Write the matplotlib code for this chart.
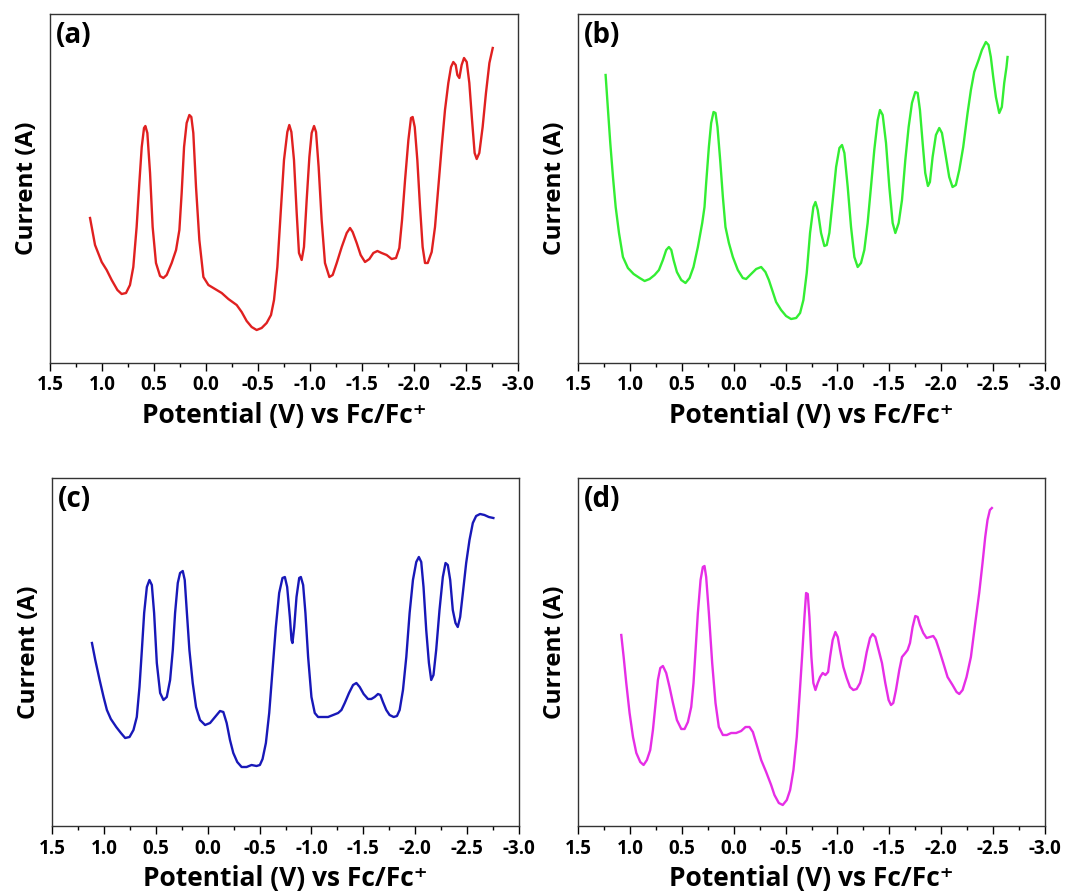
import matplotlib.pyplot as plt
from matplotlib.ticker import MultipleLocator

plt.rcParams['font.family'] = ['Open Sans', 'DejaVu Sans']
plt.rcParams['font.weight'] = 'bold'

# (a) red
va = [1.115, 1.067, 1.003, 0.955, 0.907, 0.852, 0.811, 0.769, 0.731, 0.699, 0.667, 0.641, 0.618, 0.596, 0.583,
      0.564, 0.538, 0.513, 0.481, 0.442, 0.410, 0.378, 0.330, 0.288, 0.256, 0.234, 0.211, 0.186, 0.160, 0.141,
      0.122, 0.096, 0.064, 0.025, -0.023, -0.087, -0.151, -0.215, -0.295, -0.343, -0.391, -0.439, -0.487, -0.535,
      -0.583, -0.625, -0.654, -0.686, -0.718, -0.750, -0.782, -0.801, -0.821, -0.846, -0.872, -0.894, -0.920,
      -0.942, -0.968, -0.994, -1.016, -1.039, -1.058, -1.083, -1.112, -1.144, -1.186, -1.218, -1.257, -1.305,
      -1.353, -1.385, -1.410, -1.449, -1.487, -1.529, -1.571, -1.609, -1.648, -1.689, -1.737, -1.785, -1.827,
      -1.859, -1.885, -1.914, -1.946, -1.971, -1.987, -2.007, -2.032, -2.058, -2.083, -2.106, -2.132, -2.170,
      -2.202, -2.234, -2.266, -2.298, -2.330, -2.356, -2.378, -2.401, -2.417, -2.436, -2.458, -2.481, -2.507,
      -2.532, -2.558, -2.583, -2.603, -2.628, -2.660, -2.692, -2.725, -2.757]
ia = [145, 118, 101, 93, 83, 73, 69, 70, 78, 96, 136, 180, 216, 235, 237, 230, 190, 136, 100, 87, 85, 88, 100,
      113, 133, 170, 216, 240, 248, 246, 230, 176, 123, 86, 78, 74, 70, 64, 58, 51, 42, 36, 33, 35, 40, 48, 63,
      96, 150, 203, 231, 238, 231, 203, 150, 110, 103, 116, 163, 206, 230, 237, 231, 196, 143, 100, 86, 88, 100,
      116, 130, 135, 131, 120, 108, 101, 104, 110, 112, 110, 108, 104, 105, 115, 143, 183, 223, 245, 246, 236,
      203, 156, 116, 100, 100, 111, 136, 176, 216, 253, 280, 296, 301, 298, 288, 285, 298, 305, 301, 280, 243,
      210, 204, 210, 236, 270, 300, 315]

# (b) green
vb = [1.234, 1.211, 1.189, 1.163, 1.137, 1.105, 1.067, 1.019, 0.964, 0.906, 0.858, 0.810, 0.762, 0.720, 0.682,
      0.650, 0.624, 0.601, 0.579, 0.547, 0.505, 0.464, 0.425, 0.387, 0.345, 0.303, 0.281, 0.265, 0.239, 0.217,
      0.194, 0.175, 0.156, 0.130, 0.104, 0.079, 0.046, 0.008, -0.040, -0.088, -0.120, -0.168, -0.217, -0.265,
      -0.306, -0.339, -0.371, -0.409, -0.457, -0.505, -0.553, -0.602, -0.640, -0.672, -0.704, -0.736, -0.768,
      -0.788, -0.810, -0.842, -0.874, -0.897, -0.922, -0.955, -0.987, -1.019, -1.044, -1.067, -1.099, -1.131,
      -1.163, -1.195, -1.227, -1.259, -1.291, -1.323, -1.355, -1.388, -1.410, -1.436, -1.468, -1.500, -1.532,
      -1.558, -1.590, -1.622, -1.654, -1.686, -1.718, -1.750, -1.773, -1.795, -1.821, -1.846, -1.872, -1.891,
      -1.917, -1.949, -1.981, -2.007, -2.039, -2.077, -2.109, -2.141, -2.174, -2.212, -2.254, -2.286, -2.318,
      -2.360, -2.392, -2.430, -2.456, -2.478, -2.501, -2.527, -2.559, -2.584, -2.607, -2.629, -2.639]
ib = [288, 253, 220, 186, 156, 130, 106, 95, 89, 85, 82, 84, 88, 93, 103, 113, 116, 113, 103, 91, 83, 80, 85,
      96, 116, 140, 156, 180, 216, 240, 251, 250, 236, 203, 166, 136, 120, 106, 93, 85, 84, 89, 94, 96, 91, 83,
      73, 61, 53, 47, 44, 45, 50, 63, 90, 130, 156, 161, 153, 130, 117, 118, 130, 163, 196, 215, 218, 210, 176,
      136, 106, 96, 100, 113, 140, 176, 213, 243, 253, 248, 220, 176, 140, 130, 140, 163, 203, 236, 260, 271,
      270, 253, 220, 190, 177, 181, 206, 228, 235, 230, 210, 186, 176, 178, 193, 216, 250, 273, 291, 303, 313,
      321, 318, 306, 286, 266, 250, 256, 280, 296, 306]

# (c) blue
vc = [1.115, 1.083, 1.041, 1.003, 0.971, 0.933, 0.881, 0.836, 0.795, 0.753, 0.715, 0.683, 0.657, 0.634, 0.612,
      0.586, 0.561, 0.538, 0.516, 0.490, 0.458, 0.426, 0.394, 0.362, 0.336, 0.314, 0.288, 0.266, 0.240, 0.221,
      0.202, 0.176, 0.144, 0.112, 0.074, 0.025, -0.023, -0.071, -0.119, -0.151, -0.183, -0.215, -0.247, -0.285,
      -0.327, -0.375, -0.423, -0.471, -0.503, -0.529, -0.561, -0.593, -0.625, -0.657, -0.689, -0.721, -0.744,
      -0.766, -0.792, -0.808, -0.817, -0.834, -0.856, -0.882, -0.898, -0.920, -0.942, -0.968, -1.000, -1.032,
      -1.064, -1.112, -1.160, -1.209, -1.257, -1.289, -1.321, -1.362, -1.401, -1.433, -1.465, -1.503, -1.545,
      -1.577, -1.609, -1.641, -1.664, -1.689, -1.721, -1.753, -1.792, -1.824, -1.850, -1.882, -1.914, -1.946,
      -1.978, -2.010, -2.035, -2.058, -2.080, -2.106, -2.132, -2.154, -2.176, -2.202, -2.234, -2.266, -2.292,
      -2.314, -2.337, -2.362, -2.388, -2.410, -2.433, -2.459, -2.491, -2.523, -2.555, -2.587, -2.625, -2.667,
      -2.709, -2.753]
ic = [183, 166, 146, 129, 116, 107, 99, 93, 88, 89, 96, 109, 139, 176, 213, 239, 246, 241, 213, 163, 133, 126,
      129, 146, 176, 213, 243, 253, 255, 246, 216, 176, 143, 119, 106, 101, 103, 109, 115, 114, 103, 86, 73, 64,
      59, 59, 61, 60, 61, 67, 83, 113, 156, 199, 233, 248, 249, 239, 209, 186, 183, 199, 229, 248, 249, 241, 213,
      169, 129, 113, 109, 109, 109, 111, 113, 116, 123, 133, 141, 143, 139, 132, 127, 127, 129, 132, 131, 124,
      116, 111, 109, 110, 116, 136, 169, 213, 246, 264, 269, 264, 239, 196, 163, 146, 151, 176, 216, 249, 263,
      261, 246, 216, 203, 199, 209, 233, 263, 286, 303, 310, 312, 311, 309, 308]

# (d) magenta
vd = [1.083, 1.060, 1.035, 1.003, 0.970, 0.938, 0.900, 0.868, 0.836, 0.804, 0.778, 0.752, 0.730, 0.707, 0.682,
      0.650, 0.618, 0.585, 0.547, 0.505, 0.473, 0.441, 0.409, 0.387, 0.367, 0.345, 0.319, 0.297, 0.281, 0.265,
      0.239, 0.207, 0.175, 0.143, 0.104, 0.066, 0.024, -0.024, -0.072, -0.114, -0.152, -0.185, -0.217, -0.265,
      -0.313, -0.361, -0.393, -0.435, -0.473, -0.512, -0.544, -0.576, -0.608, -0.634, -0.659, -0.682, -0.698,
      -0.714, -0.730, -0.749, -0.768, -0.788, -0.810, -0.833, -0.858, -0.884, -0.910, -0.929, -0.954, -0.980,
      -1.003, -1.025, -1.057, -1.089, -1.121, -1.153, -1.185, -1.218, -1.250, -1.282, -1.314, -1.339, -1.365,
      -1.397, -1.429, -1.461, -1.493, -1.516, -1.538, -1.564, -1.596, -1.622, -1.654, -1.676, -1.699, -1.724,
      -1.750, -1.773, -1.795, -1.827, -1.859, -1.891, -1.923, -1.949, -1.981, -2.020, -2.061, -2.109, -2.148,
      -2.174, -2.206, -2.244, -2.286, -2.328, -2.366, -2.398, -2.424, -2.446, -2.469, -2.488]
id_ = [191, 169, 143, 113, 89, 73, 64, 61, 66, 76, 96, 123, 146, 158, 160, 153, 139, 123, 106, 97, 97, 104, 119,
       143, 176, 213, 246, 259, 260, 249, 213, 163, 123, 99, 91, 91, 93, 93, 95, 99, 99, 94, 83, 66, 54, 41, 31,
       23, 21, 26, 36, 56, 89, 129, 169, 209, 233, 232, 209, 169, 143, 136, 143, 149, 153, 151, 154, 169, 186,
       194, 189, 176, 159, 148, 139, 136, 137, 143, 156, 174, 188, 192, 189, 176, 163, 143, 126, 121, 123, 136,
       156, 169, 173, 176, 183, 199, 210, 209, 201, 193, 188, 189, 190, 186, 176, 163, 149, 141, 134, 132, 136,
       149, 169, 203, 233, 263, 289, 306, 316, 318]

panels = [
    ('(a)', va, ia, '#e02020', [50, 14, 468, 349]),
    ('(b)', vb, ib, '#33ee33', [578, 14, 467, 349]),
    ('(c)', vc, ic, '#1818b8', [52, 478, 467, 348]),
    ('(d)', vd, id_, '#e62ee6', [578, 478, 467, 348]),
]

W, H = 1067, 893
fig = plt.figure(figsize=(W / 100, H / 100), dpi=100)

for lab, v, i, c, (l, t, w, h) in panels:
    ax = fig.add_axes([l / W, (H - t - h) / H, w / W, h / H])
    ax.plot(v, i, color=c, lw=1.7)
    ax.xaxis.set_major_locator(MultipleLocator(0.5))
    ax.xaxis.set_minor_locator(MultipleLocator(0.25))
    ax.set_xticks(ax.get_xticks())
    ax.set_xticklabels([f'{x:.1f}' for x in ax.get_xticks()])
    ax.set_xlim(1.5, -3.0)
    ax.set_ylim(0, h)
    ax.tick_params(axis='x', which='major', direction='out', length=6, width=1, labelsize=13.5, pad=3)
    ax.tick_params(axis='x', which='minor', direction='out', length=3, width=1)
    ax.set_yticks([])
    for s in ax.spines.values():
        s.set_linewidth(1.0)
        s.set_color('#333333')
    ax.set_xlabel('Potential (V) vs Fc/Fc⁺', fontsize=19, fontweight='bold', labelpad=5)
    ax.set_ylabel('Current (A)', fontsize=17.5, fontweight='bold', labelpad=8)
    ax.text(0.012, 0.98, lab, transform=ax.transAxes, ha='left', va='top', fontsize=20, fontweight='bold')

fig.savefig('out.png', dpi=100, facecolor='white')
